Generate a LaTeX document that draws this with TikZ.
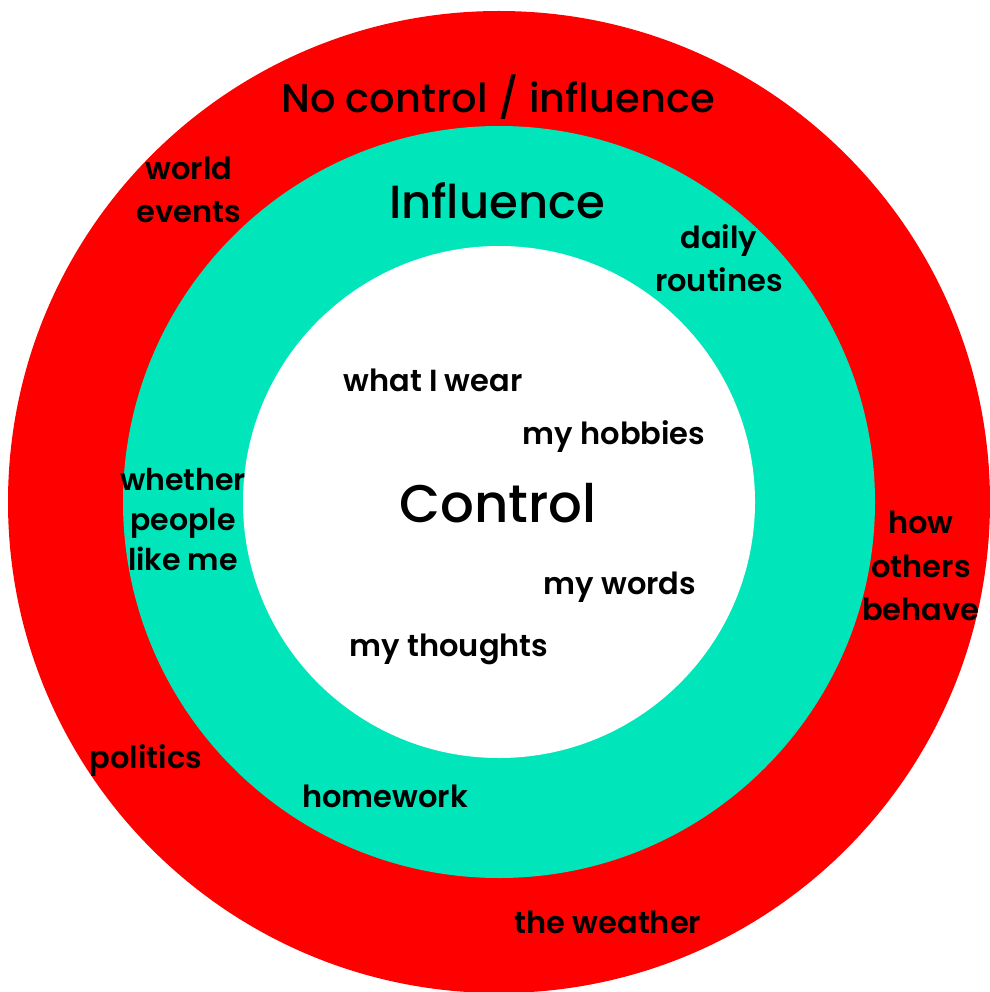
\documentclass[tikz,border=0pt]{standalone}
\usepackage{fontspec}
\setmainfont{Poppins Medium}
\newfontfamily\labelfont{Poppins SemiBold}
\definecolor{ringred}{HTML}{FF0000}
\definecolor{ringteal}{HTML}{00E5B9}
\begin{document}
\begin{tikzpicture}[x=1pt,y=-1pt,
  lbl/.style={font=\labelfont\fontsize{30.5}{43.5}\selectfont, align=center, inner sep=0pt, text=black},
  title/.style={inner sep=0pt, text=black}]
  \useasboundingbox (0,0) rectangle (989,992);
  % three concentric zones
  \fill[ringred] (499,502) circle (491);
  \fill[ringteal] (499,502) circle (376);
  \fill[white] (499,502) circle (256);
  % zone titles
  \node[title, font=\fontsize{40}{48}\selectfont] (nocontrol) at (498,97) {No control / influence};
  \node[title, font=\fontsize{46.5}{50}\selectfont] (influence) at (497,201) {Influence};
  \node[title, font=\fontsize{53}{58}\selectfont] (control) at (498,503) {Control};
  % outer ring items
  \node[lbl] (world) at (189,190) {world\\events};
  \node[lbl] (others) at (921,566) {how\\others\\behave};
  \node[lbl] (politics) at (146,761) {politics};
  \node[lbl] (weather) at (608,922) {the weather};
  % middle ring items
  \node[lbl] (routines) at (719,258) {daily\\routines};
  \node[lbl, font=\labelfont\fontsize{30}{40}\selectfont] (people) at (183,520) {whether\\people\\like me};
  \node[lbl] (homework) at (385,796) {homework};
  % inner circle items
  \node[lbl] (wear) at (433,380) {what I wear};
  \node[lbl] (hobbies) at (614,437) {my hobbies};
  \node[lbl] (words) at (620,587) {my words};
  \node[lbl] (thoughts) at (449,649) {my thoughts};
\end{tikzpicture}
\end{document}
